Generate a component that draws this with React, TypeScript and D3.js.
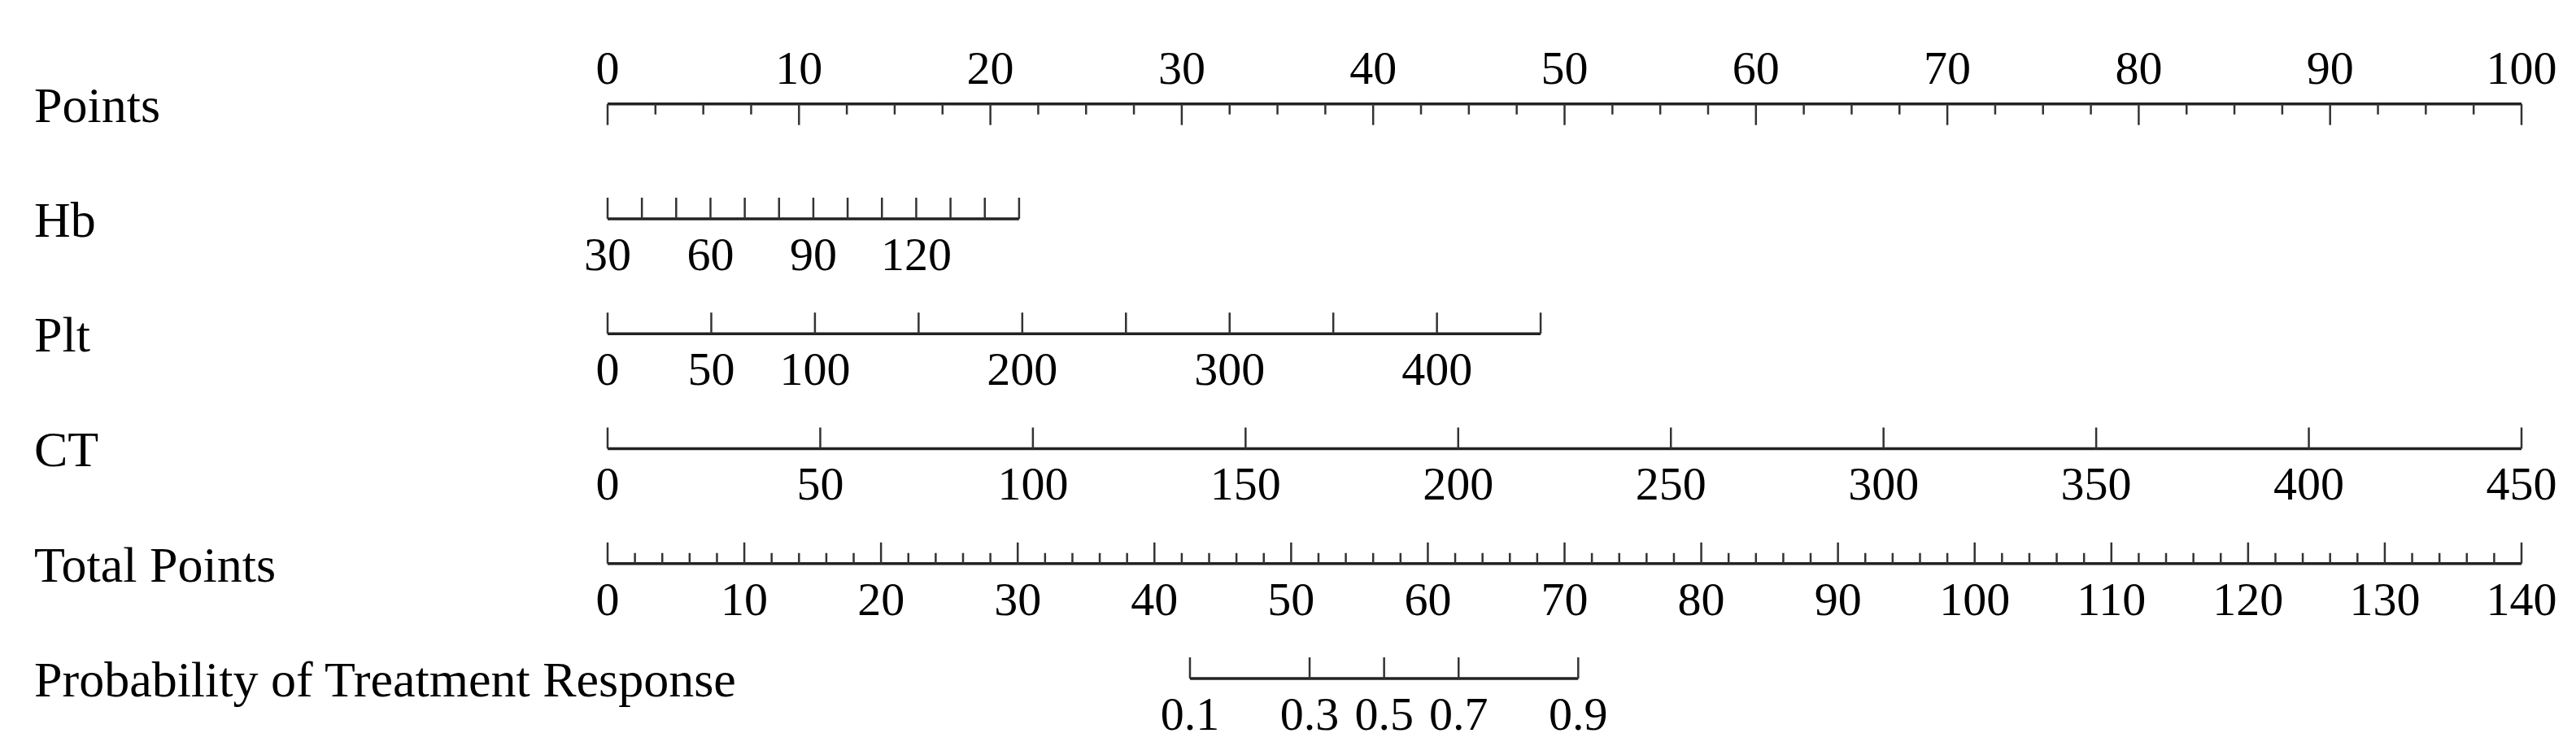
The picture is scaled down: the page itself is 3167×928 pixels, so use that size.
import React, { useEffect, useRef } from "react";
import * as d3 from "d3";

// nomogram rows
const rowLabels = ["Points", "Hb", "Plt", "CT", "Total Points", "Probability of Treatment Response"];

const pointsMajor = [0, 10, 20, 30, 40, 50, 60, 70, 80, 90, 100];

const hbTicks = [30, 40, 50, 60, 70, 80, 90, 100, 110, 120, 130, 140, 150];
const hbLabels = [30, 60, 90, 120];
const hbMaxPoints = 21.5;

const pltTicks = [0, 50, 100, 150, 200, 250, 300, 350, 400, 450];
const pltLabels = [0, 50, 100, 200, 300, 400];
const pltMaxPoints = 48.75;

const ctTicks = [0, 50, 100, 150, 200, 250, 300, 350, 400, 450];
const ctLabels = [0, 50, 100, 150, 200, 250, 300, 350, 400, 450];
const ctMaxPoints = 100;

const totalLabels = [0, 10, 20, 30, 40, 50, 60, 70, 80, 90, 100, 110, 120, 130, 140];

const probLabels = [0.1, 0.3, 0.5, 0.7, 0.9];
const probTotalPoints = [42.6, 51.35, 56.8, 62.25, 71.0];

const App = () => {
  const ref = useRef<SVGSVGElement>(null);

  useEffect(() => {
    document.body.style.margin = "0";
    const width = 3167;
    const height = 928;
    const svg = d3.select(ref.current);
    svg.attr("width", width).attr("height", height).attr("viewBox", [0, 0, width, height]);
    svg.selectAll("*").remove();

    const font = "'Liberation Serif', 'Times New Roman', serif";
    const x0 = 747;
    const x1 = 3100;
    const rowY = d3.scaleLinear().domain([0, 5]).range([127.7, 834]);

    const points = d3.scaleLinear().domain([0, 100]).range([x0, x1]);
    const total = d3.scaleLinear().domain([0, 140]).range([x0, x1]);

    // row labels
    svg
      .append("g")
      .selectAll("text")
      .data(rowLabels)
      .join("text")
      .attr("x", 42)
      .attr("y", (d, i) => rowY(i) + 22)
      .attr("font-family", font)
      .attr("font-size", 62)
      .attr("fill", "#000")
      .text((d) => d);

    const drawAxis = (
      y: number,
      xs: (v: number) => number,
      ticks: number[],
      major: number[],
      labels: number[],
      up: boolean,
      fmt: (v: number) => string = (v) => String(v)
    ) => {
      const g = svg.append("g");
      const dir = up ? -1 : 1;
      g.append("line")
        .attr("x1", xs(ticks[0]))
        .attr("x2", xs(ticks[ticks.length - 1]))
        .attr("y1", y)
        .attr("y2", y)
        .attr("stroke", "#222")
        .attr("stroke-width", 3.5);
      g.selectAll("line.tick")
        .data(ticks)
        .join("line")
        .attr("class", "tick")
        .attr("x1", (d) => xs(d))
        .attr("x2", (d) => xs(d))
        .attr("y1", y)
        .attr("y2", (d) => y + dir * (major.includes(d) ? 26 : 13))
        .attr("stroke", "#333")
        .attr("stroke-width", 2.5);
      g.selectAll("text")
        .data(labels)
        .join("text")
        .attr("x", (d) => xs(d))
        .attr("y", up ? y + 63 : y - 25)
        .attr("text-anchor", "middle")
        .attr("font-family", font)
        .attr("font-size", 58)
        .attr("fill", "#000")
        .text((d) => fmt(d));
    };

    // Points
    drawAxis(rowY(0), points, d3.range(0, 100.01, 2.5), pointsMajor, pointsMajor, false);

    // Hb
    const hb = d3.scaleLinear().domain([30, 150]).range([points(0), points(hbMaxPoints)]);
    drawAxis(rowY(1), hb, hbTicks, hbTicks, hbLabels, true);

    // Plt
    const plt = d3.scaleLinear().domain([0, 450]).range([points(0), points(pltMaxPoints)]);
    drawAxis(rowY(2), plt, pltTicks, pltTicks, pltLabels, true);

    // CT
    const ct = d3.scaleLinear().domain([0, 450]).range([points(0), points(ctMaxPoints)]);
    drawAxis(rowY(3), ct, ctTicks, ctTicks, ctLabels, true);

    // Total Points
    drawAxis(rowY(4), total, d3.range(0, 141, 2), totalLabels, totalLabels, true);

    // Probability
    const prob = d3.scaleOrdinal<number, number>().domain(probLabels).range(probTotalPoints.map((p) => total(p)));
    drawAxis(rowY(5), (v) => prob(v), probLabels, probLabels, probLabels, true, (v) => String(v));
  }, []);

  return <svg ref={ref}></svg>;
};

export default App;
